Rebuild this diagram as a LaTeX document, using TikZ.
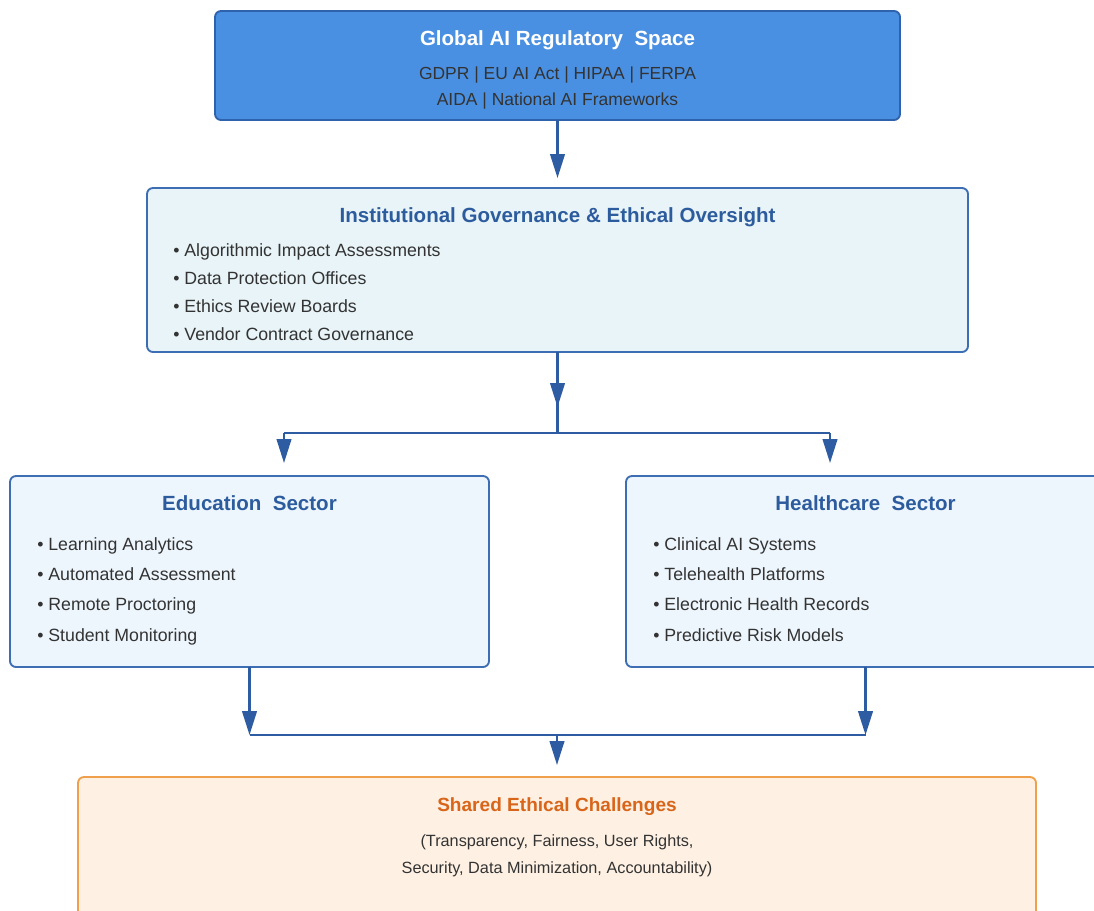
\documentclass[tikz,border=0pt]{standalone}
\usepackage{fontspec}
\setmainfont{Liberation Sans}
\usetikzlibrary{arrows.meta}
\definecolor{topfill}{HTML}{4A90E2}
\definecolor{topdraw}{HTML}{2F62AD}
\definecolor{govfill}{HTML}{E8F4F8}
\definecolor{secfill}{HTML}{EEF6FD}
\definecolor{edgeblue}{HTML}{3D6DB3}
\definecolor{arrowblue}{HTML}{2D5CA3}
\definecolor{titleblue}{HTML}{2D5C9E}
\definecolor{bodytext}{HTML}{333333}
\definecolor{orfill}{HTML}{FEF1E3}
\definecolor{ordraw}{HTML}{F0A04B}
\definecolor{ortext}{HTML}{D9651A}
\begin{document}
\begin{tikzpicture}[x=0.75pt,y=-0.75pt,
  box/.style={rectangle, rounded corners=4.5pt, line width=1.4pt, inner sep=0pt, outer sep=0pt},
  ttl/.style={anchor=base, font=\fontsize{15.4}{18}\bfseries\selectfont, inner sep=0pt},
  bul/.style={anchor=base west, font=\fontsize{13.3}{16}\selectfont, text=bodytext, inner sep=0pt},
  sub/.style={anchor=base, font=\fontsize{13.1}{16}\selectfont, text=bodytext, inner sep=0pt},
  small/.style={anchor=base, font=\fontsize{12.2}{15}\selectfont, text=bodytext, inner sep=0pt},
  conn/.style={draw=arrowblue, line width=1.6pt},
  arr/.style={conn, -{Triangle[length=18pt,width=11pt]}}
]
\useasboundingbox (0,0) rectangle (1094,910);
\clip (0,0) rectangle (1094,910);

% boxes
\node[box, fill=topfill, draw=topdraw, minimum width=513.75pt, minimum height=81.75pt] (top) at (557.5,65.5) {};
\node[box, fill=govfill, draw=edgeblue, minimum width=615.75pt, minimum height=123pt] (gov) at (557.5,270) {};
\node[box, fill=secfill, draw=edgeblue, minimum width=359.25pt, minimum height=143.25pt] (edu) at (249.5,571.5) {};
\node[box, fill=secfill, draw=edgeblue, minimum width=359.25pt, minimum height=143.25pt] (health) at (865.5,571.5) {};
\node[box, fill=orfill, draw=ordraw, minimum width=718.5pt, minimum height=120pt] (shared) at (557,857) {};

% top texts
\node[ttl, text=white] (toptitle) at (557.5,45) {Global AI Regulatory\ \ Space};
\node[sub] (topl1) at (557.5,79) {GDPR | EU AI Act | HIPAA | FERPA};
\node[sub] (topl2) at (557.5,105.5) {AIDA | National AI Frameworks};

% governance texts
\node[ttl, text=titleblue] (govtitle) at (557.5,222) {Institutional Governance \& Ethical Oversight};
\node[bul] (gov1) at (173,256) {• Algorithmic Impact Assessments};
\node[bul] (gov2) at (173,284) {• Data Protection Offices};
\node[bul] (gov3) at (173,312) {• Ethics Review Boards};
\node[bul] (gov4) at (173,340) {• Vendor Contract Governance};

% education texts
\node[ttl, text=titleblue] (edutitle) at (249.5,510) {Education\ \ Sector};
\node[bul] (edu1) at (37,550.5) {• Learning Analytics};
\node[bul] (edu2) at (37,580.5) {• Automated Assessment};
\node[bul] (edu3) at (37,610.5) {• Remote Proctoring};
\node[bul] (edu4) at (37,641) {• Student Monitoring};

% healthcare texts
\node[ttl, text=titleblue] (healthtitle) at (865.5,510) {Healthcare\ \ Sector};
\node[bul] (h1) at (653,550.5) {• Clinical AI Systems};
\node[bul] (h2) at (653,580.5) {• Telehealth Platforms};
\node[bul] (h3) at (653,610.5) {• Electronic Health Records};
\node[bul] (h4) at (653,641) {• Predictive Risk Models};

% shared texts
\node[ttl, text=ortext, font=\fontsize{14.3}{17}\bfseries\selectfont] (sharedtitle) at (557,811.5) {Shared Ethical Challenges};
\node[small] (sh1) at (557,846.5) {(Transparency, Fairness, User Rights,};
\node[small] (sh2) at (557,873) {Security, Data Minimization, Accountability)};

% connector coordinates
\coordinate (g1) at (557.5,407);
\coordinate (jc) at (557.5,433);
\coordinate (jl) at (284,433);
\coordinate (jr) at (830,433);
\coordinate (el) at (284,463);
\coordinate (er) at (830,463);
\coordinate (bl) at (249.5,735);
\coordinate (br) at (865.5,735);
\coordinate (bc) at (557,735);
\coordinate (sc) at (557,765);

% connectors
\draw[arr, shorten >=7.5pt] (top.south) -- (gov.north);
\draw[conn] (gov.south) -- (jc);
\draw[arr] (gov.south) -- (g1);
\draw[conn] (jl) -- (jr);
\draw[arr] (jl) -- (el);
\draw[arr] (jr) -- (er);
\draw[arr] (edu.south) -- (bl);
\draw[arr] (health.south) -- (br);
\draw[conn] (bl) -- (br);
\draw[arr] (bc) -- (sc);
\end{tikzpicture}
\end{document}
